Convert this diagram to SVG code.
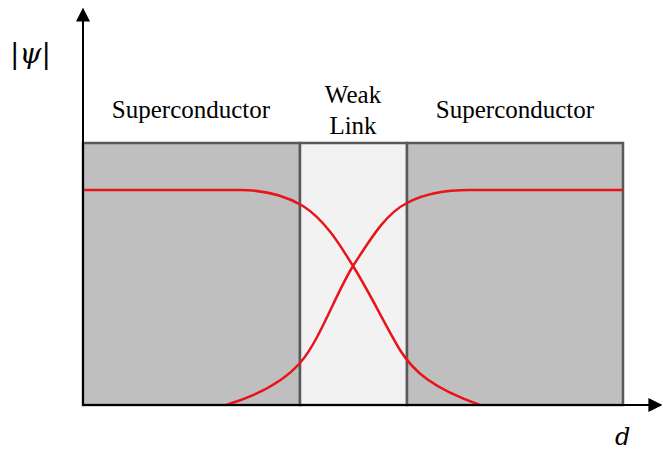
<svg xmlns="http://www.w3.org/2000/svg" width="662" height="454" viewBox="0 0 662 454">
<style>
.region{stroke:#595959;stroke-width:2.5}
.sc{fill:#bfbfbf}
.wl{fill:#f2f2f2}
.lbl{font-family:"Liberation Serif",serif;font-size:25px;fill:#000;text-anchor:middle}
.math{font-family:"DejaVu Serif","Liberation Serif",serif;font-style:italic;fill:#000}
.psi{fill:none;stroke:#e8141a;stroke-width:2.5}
.axis{stroke:#000;stroke-width:2;fill:none}
</style>
<defs>
<marker id="arr" viewBox="0 0 10 10" refX="9" refY="5" markerWidth="14" markerHeight="14" markerUnits="userSpaceOnUse" orient="auto">
<path d="M0,0 L10,5 L0,10 z" fill="#000"/>
</marker>
</defs>
<g id="sc-left"><rect class="region sc" x="83" y="143" width="217" height="262"/><text class="lbl" x="191" y="118">Superconductor</text></g>
<g id="weak-link"><rect class="region wl" x="300" y="143" width="107" height="262"/><text class="lbl" x="353" y="103">Weak</text><text class="lbl" x="353" y="134">Link</text></g>
<g id="sc-right"><rect class="region sc" x="407" y="143" width="216" height="262"/><text class="lbl" x="515" y="118">Superconductor</text></g>
<g id="curves">
<path class="psi" d="M83,190 L240,190 C268,190 288,197 303,206 C325,220 340,245 353,266 C370,293 385,325 400,350 C413,371 432,388 480,405"/>
<path class="psi" d="M226,405 C262,394 285,380 300,363 C320,340 335,295 353,266 C370,240 385,214 407,203 C425,193 445,190 470,190 L623,190"/>
</g>
<g id="axes">
<line class="axis" x1="83" y1="405" x2="83" y2="9" marker-end="url(#arr)"/>
<line class="axis" x1="82" y1="405" x2="661" y2="405" marker-end="url(#arr)"/>
<text class="math" x="10" y="63" font-size="28">|ψ|</text>
<text class="math" x="615" y="445" font-size="24">d</text>
</g>
</svg>
